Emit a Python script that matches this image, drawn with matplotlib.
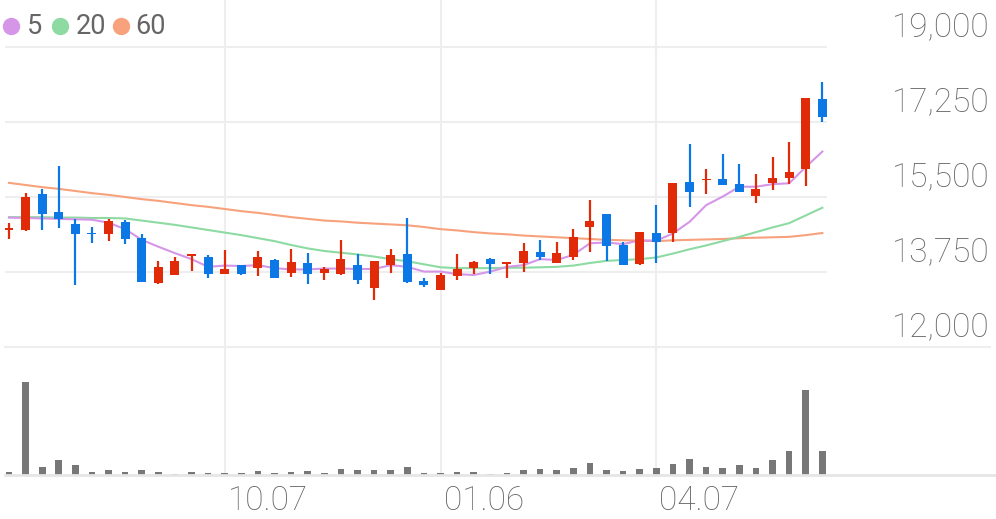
import matplotlib
matplotlib.use("Agg")
import matplotlib.pyplot as plt
import matplotlib.transforms as mtransforms
from matplotlib.lines import Line2D

plt.rcParams['font.family'] = ['Roboto', 'DejaVu Sans']

# weekly candles (open, high, low, close)
opens = [14740, 14720, 15560, 15140, 14870, 14670, 14640, 14920, 14540, 13490,
         13690, 14130, 14110, 13710, 13910, 13850, 14040, 13730, 13970, 13720,
         13700, 13920, 13380, 13910, 14160, 13550, 13330, 13660, 13850, 14060,
         13940, 13950, 14220, 13970, 14110, 14810, 15100, 14390, 13940, 14660,
         14660, 15840, 15890, 15930, 15800, 15530, 15830, 15940, 16150, 17790]
highs = [14900, 15600, 15680, 16220, 14980, 14790, 14990, 14970, 14640, 14010,
         14110, 14160, 14140, 14260, 13920, 14230, 14050, 14290, 14190, 13870,
         14490, 14160, 14000, 14280, 15000, 13620, 13720, 14160, 14010, 14070,
         13980, 14420, 14490, 14440, 14760, 15420, 15110, 14460, 14690, 15310,
         15830, 16730, 16150, 16510, 16260, 16030, 16430, 16780, 17820, 18180]
lows = [14520, 14700, 14720, 14770, 13440, 14420, 14480, 14400, 13510, 13480,
        13680, 13780, 13600, 13700, 13690, 13660, 13600, 13640, 13460, 13560,
        13690, 13470, 13100, 13720, 13500, 13390, 13320, 13560, 13710, 13700,
        13600, 13760, 14030, 13960, 14020, 14220, 14010, 13910, 13910, 13970,
        14460, 15270, 15570, 15770, 15610, 15350, 15660, 15800, 15760, 17250]
closes = [14770, 15510, 15110, 14990, 14640, 14640, 14930, 14510, 13520, 13870,
          14010, 14160, 13700, 13830, 13700, 14110, 13610, 13980, 13700, 13810,
          14050, 13560, 14000, 14150, 13510, 13450, 13690, 13820, 13980, 13930,
          13980, 14250, 14090, 14200, 14570, 14950, 14360, 13920, 14690, 14460,
          15830, 15610, 15930, 15780, 15620, 15680, 15950, 16090, 17820, 17370]

ma5 = [15020, 15010, 15000, 14990, 14980, 14970, 14900, 14750, 14500, 14340,
       14190, 14050, 13870, 13900, 13890, 13910, 13840, 13810, 13810, 13830,
       13830, 13820, 13820, 13910, 13870, 13760, 13760, 13700, 13680, 13760,
       13870, 13910, 14050, 14030, 14150, 14420, 14440, 14400, 14490, 14480,
       14650, 14920, 15310, 15510, 15740, 15740, 15800, 15820, 16200, 16560]
ma20 = [15030, 15030, 15030, 15020, 15020, 15010, 15010, 15000, 14950, 14900,
        14850, 14790, 14730, 14670, 14610, 14540, 14470, 14380, 14300, 14240,
        14200, 14160, 14110, 14050, 14000, 13930, 13860, 13840, 13840, 13840,
        13850, 13850, 13860, 13870, 13900, 13960, 14010, 14030, 14050, 14090,
        14180, 14280, 14370, 14470, 14570, 14680, 14790, 14890, 15070, 15250]
ma60 = [15830, 15780, 15730, 15690, 15640, 15590, 15550, 15500, 15450, 15410,
        15360, 15310, 15270, 15220, 15170, 15130, 15080, 15030, 14990, 14950,
        14930, 14900, 14880, 14860, 14840, 14800, 14750, 14720, 14680, 14650,
        14630, 14600, 14580, 14560, 14540, 14520, 14500, 14490, 14480, 14470,
        14490, 14500, 14510, 14520, 14540, 14550, 14560, 14570, 14610, 14660]

volumes = [33, 930, 77, 153, 100, 27, 47, 27, 53, 30,
           10, 33, 17, 17, 17, 37, 23, 27, 43, 23,
           63, 53, 50, 53, 83, 17, 17, 33, 33, 7,
           20, 47, 63, 53, 67, 120, 53, 43, 57, 70,
           110, 160, 83, 73, 100, 67, 153, 240, 853, 237]

price_ticks = [12000, 13750, 15500, 17250, 19000]
date_pos = [13, 26, 39]
date_labels = ["10.07", "01.06", "04.07"]

RED = "#e12a08"
BLUE = "#0b78e6"
GRID = "#eeeeee"
TEXT = "#666666"

W, H = 996, 519
fig = plt.figure(figsize=(W / 100, H / 100), dpi=100)

ax = fig.add_axes([5 / W, (H - 347) / H, 822 / W, 347 / H])
axv = fig.add_axes([5 / W, (H - 475) / H, 822 / W, 127 / H])

x = list(range(len(closes)))
xlim = (-0.24, 49.28)

# price panel
for t in price_ticks:
    ax.axhline(t, color=GRID, lw=1.5, zorder=0)
for p in date_pos:
    ax.axvline(p, color=GRID, lw=1.5, zorder=0)
    axv.axvline(p, color=GRID, lw=1.5, zorder=0)

ax.plot(x, ma60, color="#f7a27c", lw=1.5, zorder=2)
ax.plot(x, ma20, color="#8ddba2", lw=1.5, zorder=2)
ax.plot(x, ma5, color="#d596e8", lw=1.5, zorder=2)

for i in x:
    o, h, l, c = opens[i], highs[i], lows[i], closes[i]
    col = RED if c >= o else BLUE
    ax.vlines(i, l, h, color=col, lw=1.6, zorder=3)
    body = max(abs(c - o), 25)
    ax.bar(i, body, bottom=min(o, c), width=0.54, color=col, zorder=4)

ax.set_xlim(*xlim)
ax.set_ylim(12000, 12000 + 347 * 7000 / 300)
ax.axis("off")

# volume panel
axv.bar(x, volumes, width=0.4, color="#777777", zorder=3)
axv.set_xlim(*xlim)
axv.set_ylim(0, max(volumes) * 127 / 93)
axv.axis("off")

# full-width separator lines
fig.add_artist(Line2D([5 / W, 990 / W], [1 - 347 / H, 1 - 347 / H],
                      color=GRID, lw=1.5, transform=fig.transFigure))
fig.add_artist(Line2D([5 / W, 1.0], [1 - 475 / H, 1 - 475 / H],
                      color="#e6e6e6", lw=2, transform=fig.transFigure))

# right price labels sit just above their gridlines
ytrans = mtransforms.blended_transform_factory(fig.transFigure, ax.transData) + \
    mtransforms.ScaledTranslation(0, 11 / 100, fig.dpi_scale_trans)
for t in price_ticks:
    fig.text(990 / W, t, f"{t:,}", transform=ytrans, ha="right", va="baseline",
             fontsize=24, color=TEXT, fontweight="light")

# date labels left-aligned at gridlines
xtrans = mtransforms.blended_transform_factory(axv.transData, fig.transFigure) + \
    mtransforms.ScaledTranslation(3 / 100, 0, fig.dpi_scale_trans)
for p, lab in zip(date_pos, date_labels):
    fig.text(p, 1 - 510 / H, lab, transform=xtrans, ha="left", va="baseline",
             fontsize=24, color=TEXT, fontweight="light")

# legend
legend_items = [("5", "#d596e8", 10.5, 27), ("20", "#8ddba2", 60, 76), ("60", "#f7a27c", 121, 135)]
for lab, col, cx, tx in legend_items:
    fig.add_artist(Line2D([cx / W], [1 - 26 / H], marker="o", markersize=11.5,
                          color=col, lw=0, transform=fig.transFigure))
    fig.text(tx / W, 1 - 34 / H, lab, ha="left", va="baseline",
             fontsize=19.5, color=TEXT)

fig.savefig("out.png", dpi=100)
